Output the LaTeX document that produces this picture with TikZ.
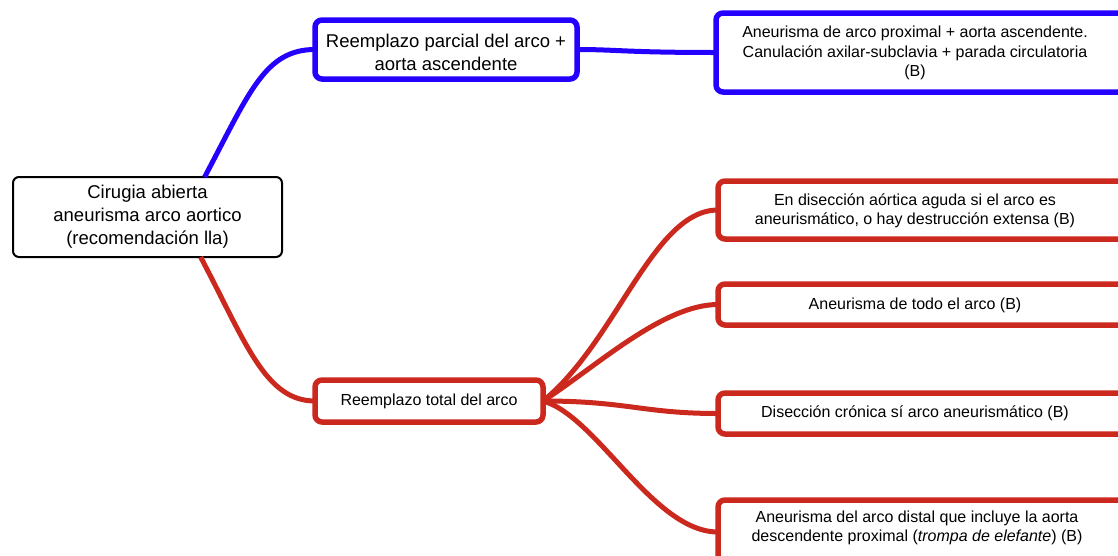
\documentclass[tikz,border=0pt]{standalone}
\usepackage{fontspec}
\setmainfont{Liberation Sans}
\definecolor{mapblue}{RGB}{36,0,255}
\definecolor{mapred}{RGB}{204,41,30}

\begin{document}
\begin{tikzpicture}[x=1pt, y=-1pt,
  every node/.style={outer sep=0pt, inner sep=0pt, align=center},
  rootbox/.style={draw=black, line width=2pt, rounded corners=6pt, fill=white},
  bluebox/.style={draw=mapblue, line width=5.5pt, rounded corners=7pt, fill=white},
  redbox/.style={draw=mapred, line width=5.5pt, rounded corners=7pt, fill=white},
  bigtxt/.style={font=\fontsize{18.5}{23}\selectfont},
  txt/.style={font=\fontsize{16}{19.5}\selectfont},
  blueline/.style={draw=mapblue, line width=5pt},
  redline/.style={draw=mapred, line width=5pt}]
\useasboundingbox (0,0) rectangle (1118,555);

\node[rootbox, bigtxt, minimum width=269, minimum height=80] (root) at (147.5,217) {Cirugia abierta\\aneurisma arco aortico\\(recomendación lla)};
\node[bluebox, minimum width=262, minimum height=59] (parcial) at (446,49.5) {};
\node[bigtxt] (parcialtxt) at (446,52) {Reemplazo parcial del arco +\\aorta ascendente};
\node[redbox, txt, minimum width=228, minimum height=42] (total) at (429,401) {Reemplazo total del arco};

\node[bluebox, minimum width=430, minimum height=79, anchor=west] (proximal) at (716,52.5) {};
\node[txt] (proximaltxt) at (915,53) {Aneurisma de arco proximal + aorta ascendente.\\Canulación axilar-subclavia + parada circulatoria\\(B)};

\node[redbox, minimum width=430, minimum height=58, anchor=west] (aguda) at (718,210) {};
\node[txt] (agudatxt) at (915,211) {En disección aórtica aguda si el arco es\\aneurismático, o hay destrucción extensa (B)};

\node[redbox, minimum width=430, minimum height=41, anchor=west] (todo) at (718,304.5) {};
\node[txt] (todotxt) at (915,305) {Aneurisma de todo el arco (B)};

\node[redbox, minimum width=430, minimum height=41, anchor=west] (cronica) at (718,413.5) {};
\node[txt] (cronicatxt) at (915,413) {Disección crónica sí arco aneurismático (B)};

\node[redbox, minimum width=430, minimum height=64, anchor=west] (distal) at (718,532) {};
\node[txt] (distaltxt) at (917,528) {Aneurisma del arco distal que incluye la aorta\\descendente proximal (\textit{trompa de elefante}) (B)};

\draw[blueline] (root.35) .. controls +(45,-85) and +(-50,0) .. (parcial.west);
\draw[redline] (root.-37) .. controls +(45,85) and +(-50,0) .. (total.west);
\draw[blueline] (parcial.east) .. controls +(40,0) and +(-90,0) .. (proximal.west);
\draw[redline] (total.east) .. controls +(74,-60) and +(-65,0) .. (aguda.west);
\draw[redline] (total.east) .. controls +(54,-35) and +(-55,0) .. (todo.west);
\draw[redline] (total.east) .. controls +(84,0) and +(-75,0) .. (cronica.west);
\draw[redline] (total.east) .. controls +(54,15) and +(-65,0) .. (distal.west);
\end{tikzpicture}
\end{document}
